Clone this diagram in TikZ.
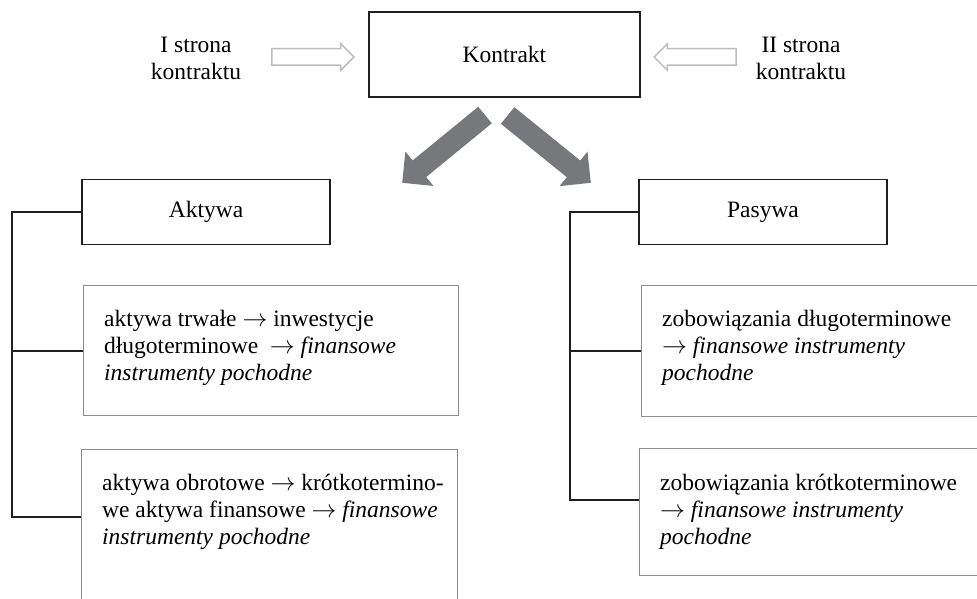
\documentclass[tikz,border=0pt]{standalone}
\usepackage{fontspec}
\setmainfont{Liberation Serif}
\usetikzlibrary{shapes.arrows, positioning}

\definecolor{arrowgray}{HTML}{77787B}
\definecolor{hollowgray}{HTML}{BEBEBE}
\definecolor{boxgray}{HTML}{8C8C8C}
\definecolor{linedark}{HTML}{231F20}

\newcommand{\arr}{$\rightarrow$}

\begin{document}
\begin{tikzpicture}[
      x=1pt, y=1pt,
      font=\fontsize{23.5}{27}\selectfont,
      headbox/.style={
          draw=linedark,
          line width=1.8pt,
          minimum width=248pt,
          minimum height=65pt,
          inner sep=0pt
      },
      itembox/.style={
          draw=boxgray,
          line width=1.4pt,
          anchor=north west,
          inner sep=0pt
      },
      itemtext/.style={
          anchor=north west,
          align=left,
          inner sep=0pt
      },
      bigarrow/.style={
          single arrow,
          fill=arrowgray,
          minimum height=107pt,
          minimum width=44pt,
          single arrow head extend=11.5pt,
          inner xsep=0pt,
          inner ysep=10.5pt,
          anchor=tip
      },
      hollowarrow/.style={
          single arrow,
          draw=hollowgray,
          fill=white,
          line width=1.5pt,
          minimum height=82pt,
          minimum width=25pt,
          single arrow head extend=5pt,
          inner xsep=0pt,
          inner ysep=7.5pt,
          anchor=tip
      },
      bracket/.style={draw=linedark, line width=1.6pt}
  ]
      \useasboundingbox (0,0) rectangle (977,-599);

      % --- Contract and its two sides ---
      \node[draw=linedark, line width=1.8pt, minimum width=271pt, minimum height=85pt] (kontrakt) at (504.5,-54.5) {Kontrakt};
      \node[align=center] (strona1) at (196,-58) {I strona\\kontraktu};
      \node[align=center] (strona2) at (801,-58) {II strona\\kontraktu};

      \node[hollowarrow] (in1) at (355,-57) {};
      \node[hollowarrow, shape border rotate=180] (in2) at (653,-57) {};

      % --- Big arrows ---
      \node[bigarrow, rotate=219.3] (toaktywa) at (402,-183) {};
      \node[bigarrow, rotate=-39] (topasywa) at (591,-183) {};

      % --- Headers ---
      \node[headbox] (aktywa) at (206,-212) {Aktywa};
      \node[headbox] (pasywa) at (763,-212) {Pasywa};

      % --- Assets ---
      \node[itembox, minimum width=375pt, minimum height=130pt] (trwale) at (83,-285) {};
      \node[itemtext, below right=25pt and 21pt of trwale.north west] (trwale-txt)
          {aktywa trwałe \arr{} inwestycje\\długoterminowe \ \arr{} \textit{finansowe}\\\textit{instrumenty pochodne}};

      \node[itembox, minimum width=376pt, minimum height=160pt] (obrotowe) at (81,-449) {};
      \node[itemtext, below right=25pt and 21pt of obrotowe.north west] (obrotowe-txt)
          {aktywa obrotowe \arr{} krótkotermino-\\we aktywa finansowe \arr{} \textit{finansowe}\\\textit{instrumenty pochodne}};

      % --- Liabilities ---
      \node[itembox, minimum width=360pt, minimum height=131pt] (dlugo) at (641,-285) {};
      \node[itemtext, below right=25pt and 21pt of dlugo.north west] (dlugo-txt)
          {zobowiązania długoterminowe\\\arr{} \textit{finansowe instrumenty}\\\textit{pochodne}};

      \node[itembox, minimum width=360pt, minimum height=127pt] (krotko) at (639,-448) {};
      \node[itemtext, below right=26pt and 21pt of krotko.north west] (krotko-txt)
          {zobowiązania krótkoterminowe\\\arr{} \textit{finansowe instrumenty}\\\textit{pochodne}};

      % --- Brackets ---
      \coordinate (lspine) at (12,-212);
      \coordinate (lbot) at (81,-517);
      \coordinate (rspine) at (570,-212);
      \coordinate (rbot) at (639,-500);

      \draw[bracket] (aktywa.west) -- (lspine) |- (lbot);
      \draw[bracket] (lspine |- trwale.west) -- (trwale.west);

      \draw[bracket] (pasywa.west) -- (rspine) |- (rbot);
      \draw[bracket] (rspine |- dlugo.west) -- (dlugo.west);

  \end{tikzpicture}
\end{document}
